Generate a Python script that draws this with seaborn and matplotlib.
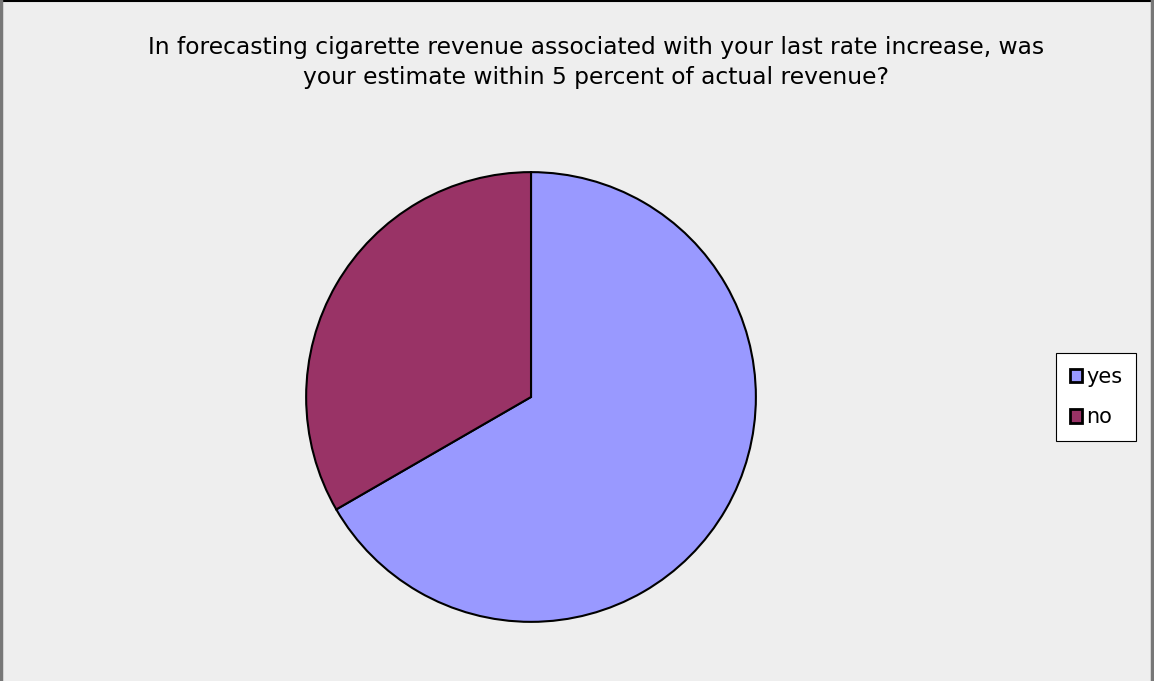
import matplotlib
matplotlib.use("Agg")
from matplotlib import pyplot as plt
from matplotlib.lines import Line2D
import seaborn as sns

# survey answers (share of responses)
answers = ["yes", "no"]
counts = [2, 1]
colors = ["#9999FF", "#993366"]
title = ("In forecasting cigarette revenue associated with your last rate increase, was\n"
         "your estimate within 5 percent of actual revenue?")

sns.set_theme(style="white")
sns.set_palette(colors)
plt.rcParams['font.family'] = ['DejaVu Sans']

fig = plt.figure(figsize=(11.54, 6.81), dpi=100)
fig.patch.set_facecolor("#EEEEEE")

ax = fig.add_axes([0.2643, 0.0852, 0.3917, 0.6637])
ax.set_facecolor("#EEEEEE")
wedges, _ = ax.pie(counts, colors=colors, startangle=90, counterclock=False,
                   wedgeprops=dict(edgecolor="black", linewidth=1.5))
ax.set_xlim(-1.005, 1.005)
ax.set_ylim(-1.005, 1.005)
ax.axis("off")

fig.text(0.5165, 0.908, title, ha="center", va="center", fontsize=16.8,
         linespacing=1.42, color="black")

handles = [plt.Rectangle((0, 0), 1, 1, facecolor=c, edgecolor="black", linewidth=2)
           for c in colors]
leg = fig.legend(handles, answers, loc="center", bbox_to_anchor=(0.950, 0.417),
                 fontsize=15, frameon=True, fancybox=False, handlelength=0.6,
                 handleheight=0.6, handletextpad=0.2, labelspacing=1.0,
                 borderpad=0.65, borderaxespad=0)
for t in leg.get_texts():
    t.set_color("black")
leg.get_frame().set_edgecolor("black")
leg.get_frame().set_facecolor("white")
leg.get_frame().set_alpha(1)
leg.get_frame().set_linewidth(0.8)

# chart area border
fig.add_artist(Line2D([0, 1], [0.999, 0.999], color="black", linewidth=1.5, transform=fig.transFigure))
fig.add_artist(Line2D([0.001, 0.001], [0, 1], color="#777777", linewidth=2.5, transform=fig.transFigure))
fig.add_artist(Line2D([0.998, 0.998], [0, 1], color="#777777", linewidth=2.5, transform=fig.transFigure))

fig.savefig("out.png", dpi=100, facecolor=fig.get_facecolor())
